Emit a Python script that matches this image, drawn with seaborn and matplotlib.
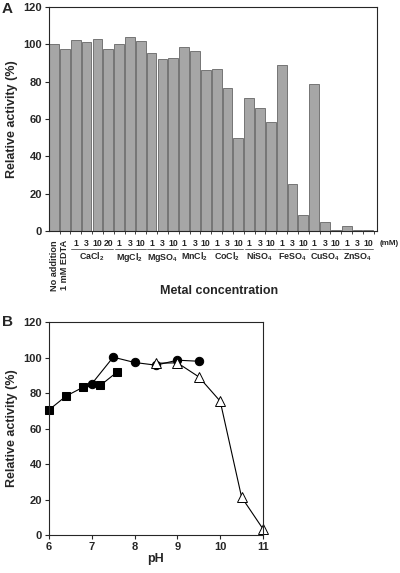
import numpy as np
import pandas as pd
import seaborn as sns
import matplotlib.pyplot as plt
from matplotlib.transforms import blended_transform_factory

# ---- panel A data: metal ions
metals = ["CaCl$_2$", "MgCl$_2$", "MgSO$_4$", "MnCl$_2$", "CoCl$_2$",
          "NiSO$_4$", "FeSO$_4$", "CuSO$_4$", "ZnSO$_4$"]
concs = [[1, 3, 10, 20], [1, 3, 10], [1, 3, 10], [1, 3, 10], [1, 3, 10],
         [1, 3, 10], [1, 3, 10], [1, 3, 10], [1, 3, 10]]
controls = ["No addition", "1 mM EDTA"]
control_act = [100, 97.5]
metal_act = [102.1, 101.2, 103, 97.5,   # CaCl2
             100, 104, 101.6,           # MgCl2
             95.3, 92.3, 92.8,          # MgSO4
             98.6, 96.4, 86.3,          # MnCl2
             86.9, 76.7, 50.0,          # CoCl2
             71.3, 65.7, 58.6,          # NiSO4
             89.0, 25.0, 8.6,           # FeSO4
             78.9, 4.9, 0.3,            # CuSO4
             2.5, 0.3, 0.3]             # ZnSO4

# ---- panel B data: pH
ph_sq = [6.0, 6.4, 6.8, 7.2, 7.6]
act_sq = [70.5, 78.3, 83.3, 84.3, 92.0]
ph_ci = [7.0, 7.5, 8.0, 8.5, 9.0, 9.5]
act_ci = [85.2, 100.2, 97.2, 95.7, 98.5, 97.9]
ph_tr = [8.5, 9.0, 9.5, 10.0, 10.5, 11.0]
act_tr = [96.8, 97.0, 89.1, 75.4, 21.3, 3.4]

sns.set_style("ticks")
plt.rcParams['font.family'] = ['Liberation Sans', 'DejaVu Sans']
plt.rcParams['font.weight'] = 'bold'
plt.rcParams['mathtext.fontset'] = 'custom'
plt.rcParams['mathtext.rm'] = 'Liberation Sans:bold'
plt.rcParams['mathtext.default'] = 'rm'

labels = list(controls)
for m, cs in zip(metals, concs):
    for c in cs:
        labels.append(f"{m} {c}")
dfa = pd.DataFrame({'label': labels, 'activity': control_act + metal_act})

fig = plt.figure(figsize=(4, 5.73), dpi=100)
axa = fig.add_axes([0.1225, 0.5969, 0.82, 0.3909])
axb = fig.add_axes([0.1225, 0.0663, 0.535, 0.3717])

sns.barplot(data=dfa, x='label', y='activity', color='#a6a6a6', width=0.9,
            edgecolor='#666666', linewidth=0.6, saturation=1, ax=axa)
axa.set_xlim(-0.47, len(labels) - 0.2)
axa.set_ylim(0, 120)
axa.set_yticks(range(0, 121, 20))
axa.set_xticks(np.arange(len(labels)) + 0.5)
axa.set_xticklabels([])
axa.tick_params(axis='x', length=2, width=0.6)
axa.tick_params(axis='y', length=3, width=0.8, labelsize=8, pad=2)
axa.set_xlabel('')
axa.set_ylabel('Relative activity (%)', fontsize=9, fontweight='bold', labelpad=4)
for s in axa.spines.values():
    s.set_linewidth(0.8)

tr = blended_transform_factory(axa.transData, axa.transAxes)
for i, lab in enumerate(controls):
    axa.text(i, -0.04, lab, rotation=90, ha='center', va='top',
             fontsize=6.6, transform=tr)
pos = len(controls)
for m, cs in zip(metals, concs):
    first = pos
    for c in cs:
        axa.text(pos, -0.055, str(c), ha='center', va='center',
                 fontsize=6.2, transform=tr)
        pos += 1
    last = pos - 1
    axa.plot([first - 0.4, last + 0.45], [-0.082, -0.082], color='#555555',
             lw=0.6, transform=tr, clip_on=False)
    axa.text((first + last) / 2, -0.128, m, ha='center', va='baseline',
             fontsize=6.4, transform=tr)
axa.text(1.008, -0.055, '(mM)', ha='left', va='center', fontsize=5.8,
         transform=axa.transAxes)
axa.text(0.52, -0.27, 'Metal concentration', ha='center', va='center',
         fontsize=9, fontweight='bold', transform=axa.transAxes)

# ---- panel B
sns.lineplot(x=ph_sq, y=act_sq, color='black', lw=0.8, marker='s',
             markersize=5.5, markeredgecolor='black', ax=axb, clip_on=False)
sns.lineplot(x=ph_ci, y=act_ci, color='black', lw=0.8, marker='o',
             markersize=6, markeredgecolor='black', ax=axb, clip_on=False)
sns.lineplot(x=ph_tr, y=act_tr, color='black', lw=0.8, marker='^',
             markersize=6.5, markerfacecolor='white', markeredgecolor='black',
             markeredgewidth=0.7, ax=axb, clip_on=False)
axb.set_xlim(6, 11)
axb.set_ylim(0, 120)
axb.set_xticks(range(6, 12))
axb.set_yticks(range(0, 121, 20))
axb.tick_params(length=3, width=0.8, labelsize=8, pad=2)
axb.set_xlabel('pH', fontsize=9, fontweight='bold', labelpad=1)
axb.set_ylabel('Relative activity (%)', fontsize=9, fontweight='bold', labelpad=4)
for s in axb.spines.values():
    s.set_linewidth(0.8)

fig.text(0.005, 0.985, 'A', fontsize=11, fontweight='bold', va='center')
fig.text(0.005, 0.438, 'B', fontsize=11, fontweight='bold', va='center')

fig.savefig('out.png', dpi=100)
